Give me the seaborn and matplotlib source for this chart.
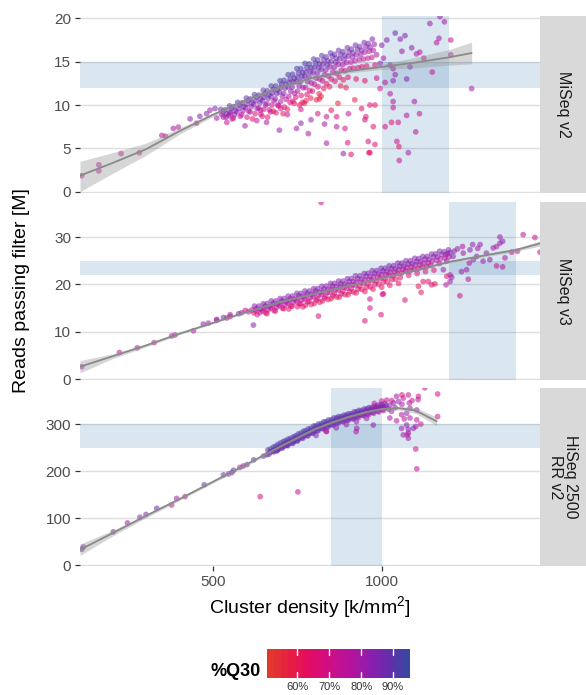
import numpy as np
import pandas as pd
import matplotlib
matplotlib.use("Agg")
import matplotlib.pyplot as plt
import seaborn as sns
from matplotlib.colors import LinearSegmentedColormap, ListedColormap

# ---------------- data ----------------
panel_names = ["MiSeq v2", "MiSeq v3", "HiSeq 2500\nRR v2"]

# MiSeq v2 : cluster density [k/mm2], reads PF [M], %Q30
v2_x = [
    109, 160, 160, 226, 280, 347, 358, 381, 396, 431,
    450, 460, 490, 510, 540, 550, 594, 629, 658, 696,
    747, 480, 505,
    782, 836, 886, 909, 899, 960, 965, 891, 866, 950,
    975, 836, 962, 980, 953, 901, 866, 995, 985, 965,
    980, 720, 760, 790, 810, 850, 870, 920, 940, 700,
    740, 775, 815, 640, 670, 830, 760,
    1143, 1173, 1186, 1170, 1163, 1205, 1113, 1103, 1089, 1125,
    1084, 1150, 1205, 1074, 1040, 1034, 1267, 1025, 1034, 1034,
    1097, 1112, 1074, 1049, 1029, 1010, 1101, 1045, 1051, 1079,
    1052, 995, 985, 1005, 1025, 1034, 1040, 1069, 1055, 1015,
    1000, 1060, 1010,
    522, 528, 525, 530,
    548, 553, 550, 545, 556,
    572, 578, 575, 570, 580,
    598, 603, 600, 596, 605, 600,
    622, 628, 625, 620, 630, 624,
    648, 653, 650, 646, 655, 650, 645,
    672, 678, 675, 671, 680, 674, 678,
    698, 703, 700, 696, 705, 700, 694, 707,
    722, 728, 725, 721, 730, 724, 728, 720,
    748, 753, 750, 746, 755, 750, 745, 756,
    772, 778, 775, 771, 780, 774, 778, 770,
    798, 803, 800, 796, 805, 800, 794, 806,
    822, 828, 825, 821, 830, 824, 828, 820,
    848, 853, 850, 846, 855, 850, 845,
    872, 878, 875, 871, 880, 874, 878,
    898, 903, 900, 896, 905, 900, 894,
    922, 928, 925, 921, 930, 924,
    948, 953, 950, 946, 955, 950,
    972, 978, 975, 971, 980,
]
v2_y = [
    1.85, 3.1, 2.4, 4.4, 4.5, 6.5, 6.4, 7.3, 7.45, 8.4,
    7.9, 8.7, 9.4, 8.5, 8.0, 9.0, 7.6, 8.2, 8.0, 7.1,
    7.3, 9.0, 9.6,
    6.7, 5.6, 4.4, 4.3, 5.65, 5.8, 4.5, 7.3, 7.5, 8.3,
    7.5, 8.65, 4.5, 5.45, 8.65, 9.0, 8.65, 11.9, 13.1, 10.0,
    10.0, 8.9, 9.5, 8.3, 9.0, 9.4, 10.2, 10.6, 9.6, 9.6,
    10.2, 10.5, 10.7, 9.4, 9.2, 7.8, 7.9,
    19.4, 20.2, 19.6, 17.7, 17.2, 17.5, 16.1, 15.9, 16.6, 15.4,
    14.4, 13.8, 15.8, 13.0, 13.5, 12.8, 11.9, 11.3, 10.4, 9.7,
    10.4, 9.0, 8.8, 8.0, 8.0, 7.5, 6.9, 5.8, 5.2, 4.5,
    3.6, 14.8, 15.8, 15.4, 14.6, 14.2, 18.3, 18.0, 17.6, 17.5,
    16.9, 16.2, 12.6,
    9.5, 9.2, 8.9, 8.6,
    9.9, 9.6, 9.2, 8.8, 8.4,
    10.3, 10.0, 9.6, 9.2, 8.7,
    10.8, 10.5, 10.1, 9.7, 9.3, 8.6,
    11.2, 10.9, 10.5, 10.1, 9.6, 9.0,
    11.7, 11.3, 10.9, 10.5, 10.0, 9.5, 8.7,
    12.2, 11.8, 11.4, 11.0, 10.5, 10.0, 9.3,
    12.8, 12.4, 12.0, 11.5, 11.0, 10.4, 9.9, 9.0,
    13.5, 13.0, 12.6, 12.1, 11.6, 11.0, 10.3, 9.5,
    14.2, 13.7, 13.2, 12.7, 12.2, 11.6, 10.9, 10.0,
    14.8, 14.3, 13.8, 13.3, 12.7, 12.0, 11.2, 10.2,
    15.3, 14.8, 14.3, 13.7, 13.1, 12.4, 11.6, 10.6,
    15.7, 15.2, 14.7, 14.1, 13.5, 12.8, 11.9, 11.0,
    16.0, 15.6, 15.0, 14.4, 13.8, 13.0, 12.1,
    16.3, 15.8, 15.3, 14.7, 14.0, 13.2, 12.2,
    16.6, 16.1, 15.6, 14.9, 14.2, 13.2, 12.0,
    16.9, 16.4, 15.8, 15.1, 14.3, 13.0,
    17.2, 16.7, 16.1, 15.3, 14.5, 12.8,
    17.6, 17.0, 16.3, 15.5, 14.6,
]
v2_q = [
    72, 78, 75, 72, 70, 76, 74, 80, 78, 82,
    76, 84, 80, 78, 76, 82, 80, 74, 78, 82,
    80, 86, 88,
    78, 80, 84, 68, 66, 68, 62, 70, 76, 66,
    64, 72, 64, 66, 68, 72, 66, 70, 74, 66,
    62, 74, 70, 82, 66, 62, 58, 60, 64, 70,
    62, 60, 58, 76, 72, 80, 84,
    80, 82, 80, 80, 76, 72, 74, 78, 80, 76,
    82, 72, 78, 84, 80, 82, 80, 76, 78, 72,
    80, 74, 78, 70, 66, 68, 76, 70, 64, 80,
    74, 84, 82, 80, 82, 78, 88, 86, 84, 86,
    84, 80, 74,
    88, 86, 82, 76,
    90, 88, 84, 78, 70,
    90, 88, 85, 80, 72,
    90, 88, 86, 82, 74, 68,
    91, 89, 86, 83, 76, 66,
    91, 89, 87, 84, 78, 70, 64,
    91, 90, 88, 85, 80, 72, 62,
    92, 90, 88, 86, 82, 76, 68, 60,
    92, 90, 88, 86, 82, 76, 66, 58,
    92, 90, 89, 86, 82, 76, 68, 62,
    91, 90, 88, 86, 82, 74, 66, 60,
    91, 90, 88, 85, 80, 72, 64, 58,
    90, 88, 87, 84, 78, 70, 62, 56,
    90, 88, 86, 82, 76, 68, 60,
    89, 88, 85, 80, 74, 66, 58,
    88, 86, 84, 78, 72, 64, 60,
    88, 86, 82, 76, 70, 62,
    86, 84, 80, 74, 68, 62,
    86, 82, 78, 72, 66,
]
# MiSeq v2, more runs in the dense part of the cloud
v2_dense_x = [
    535, 540, 538,
    560, 565, 563, 559,
    585, 590, 588, 584,
    610, 615, 613, 609, 616,
    635, 640, 638, 634, 641,
    660, 665, 663, 659, 666, 661,
    685, 690, 688, 684, 691, 686,
    710, 715, 713, 709, 716, 711,
    735, 740, 738, 734, 741, 736,
    760, 765, 763, 759, 766, 761, 764,
    785, 790, 788, 784, 791, 786, 789,
    810, 815, 813, 809, 816, 811, 814,
    835, 840, 838, 834, 841, 836,
    860, 865, 863, 859, 866, 861,
    885, 890, 888, 884, 891, 886,
    910, 915, 913, 909, 916,
    935, 940, 938, 934, 941,
    960, 965, 963, 959,
]
v2_dense_y = [
    9.45, 9.0, 8.6,
    9.8, 9.35, 8.9, 8.5,
    10.25, 9.8, 9.35, 8.9,
    10.7, 10.25, 9.8, 9.2, 8.4,
    11.15, 10.7, 10.25, 9.65, 8.95,
    11.65, 11.2, 10.75, 10.15, 9.45, 8.6,
    12.2, 11.75, 11.3, 10.7, 10.0, 9.1,
    12.85, 12.4, 11.95, 11.35, 10.65, 9.75,
    13.55, 13.1, 12.65, 12.05, 11.35, 10.45,
    14.2, 13.75, 13.3, 12.7, 12.0, 11.1, 10.3,
    14.75, 14.3, 13.85, 13.25, 12.55, 11.65, 10.8,
    15.2, 14.75, 14.3, 13.7, 13.0, 12.1, 11.3,
    15.55, 15.1, 14.65, 14.05, 13.35, 12.45,
    15.85, 15.4, 14.95, 14.35, 13.65, 12.75,
    16.15, 15.7, 15.25, 14.65, 13.95, 12.9,
    16.45, 16.0, 15.55, 14.95, 14.25,
    16.75, 16.3, 15.85, 15.25, 14.4,
    17.1, 16.65, 16.2, 15.4,
]
v2_dense_q = [
    90, 87, 80,
    90, 88, 82, 74,
    91, 88, 84, 76,
    91, 89, 85, 78, 66,
    91, 89, 86, 80, 70,
    92, 90, 87, 82, 72, 62,
    92, 90, 88, 83, 74, 64,
    92, 90, 88, 84, 76, 66,
    92, 91, 88, 85, 78, 68,
    92, 91, 89, 85, 78, 68, 60,
    92, 90, 88, 84, 76, 66, 58,
    91, 90, 88, 84, 76, 66, 60,
    91, 89, 87, 82, 74, 64,
    90, 89, 86, 80, 72, 62,
    90, 88, 85, 78, 70, 60,
    89, 87, 84, 76, 68,
    88, 86, 82, 74, 66,
    87, 84, 80, 72,
]

# MiSeq v3
v3_x = [
    109, 221, 274, 324, 376, 386, 441, 470, 485, 510,
    510, 540, 550, 550, 584, 604, 619, 614, 530, 575,
    595,
    812, 950, 965, 998, 1005, 1069, 1109, 1117, 1138, 1158,
    1193, 965, 1002, 1148, 1123, 1232, 820,
    1257, 1203, 1191, 1208, 1341, 1359, 1366, 1321, 1301, 1282,
    1311, 1331, 1351, 1351, 1359, 1341, 1386, 1403, 1420, 1455,
    1470, 1292, 1262, 1242, 1272, 1252, 1237, 1212, 1193, 1183,
    1203, 1225, 1240, 1270, 1215, 1195, 1260, 1285,
    622, 628, 625, 620, 630,
    648, 653, 650, 646, 655,
    672, 678, 675, 671, 680,
    698, 703, 700, 696, 705,
    722, 728, 725, 721, 730, 724,
    748, 753, 750, 746, 755, 750,
    772, 778, 775, 771, 780, 774,
    798, 803, 800, 796, 805, 800,
    822, 828, 825, 821, 830, 824,
    848, 853, 850, 846, 855, 850,
    872, 878, 875, 871, 880, 874,
    898, 903, 900, 896, 905, 900,
    922, 928, 925, 921, 930, 924,
    948, 953, 950, 946, 955, 950,
    972, 978, 975, 971, 980, 974,
    998, 1003, 1000, 996, 1005, 1000,
    1022, 1028, 1025, 1021, 1030, 1024,
    1048, 1053, 1050, 1046, 1055, 1050,
    1072, 1078, 1075, 1071, 1080,
    1098, 1103, 1100, 1096, 1105,
    1122, 1128, 1125, 1121, 1130,
    1148, 1153, 1150, 1146, 1155,
    1172, 1178, 1175, 1171,
    1198, 1203, 1200,
]
v3_y = [
    2.6, 5.6, 6.6, 7.7, 9.1, 9.3, 10.2, 11.6, 11.8, 12.4,
    12.6, 12.9, 13.6, 13.2, 14.0, 14.2, 11.4, 14.6, 13.0, 13.8,
    14.5,
    13.3, 12.3, 15.0, 13.6, 18.0, 16.7, 19.6, 18.3, 20.6, 20.1,
    21.7, 16.9, 17.9, 19.9, 20.6, 17.6, 37.3,
    21.1, 20.6, 19.9, 21.5, 23.9, 23.7, 25.6, 25.2, 24.9, 25.9,
    26.6, 27.7, 28.7, 30.0, 29.1, 28.0, 26.8, 27.0, 30.5, 29.9,
    26.8, 28.4, 27.3, 26.6, 25.2, 23.1, 22.7, 25.9, 24.9, 23.1,
    22.0, 27.5, 28.0, 28.4, 27.0, 26.5, 24.5, 27.6,
    15.4, 14.9, 14.5, 14.0, 13.6,
    15.9, 15.4, 14.9, 14.4, 14.0,
    16.5, 16.0, 15.5, 15.0, 14.5,
    17.0, 16.5, 16.0, 15.5, 15.0,
    17.5, 17.0, 16.5, 16.0, 15.4, 14.8,
    18.1, 17.6, 17.0, 16.5, 15.9, 15.3,
    18.6, 18.1, 17.5, 16.9, 16.3, 15.6,
    19.1, 18.6, 18.0, 17.4, 16.7, 16.0,
    19.6, 19.0, 18.4, 17.8, 17.1, 16.5,
    20.2, 19.6, 19.0, 18.3, 17.6, 17.0,
    20.7, 20.1, 19.5, 18.8, 18.0, 17.3,
    21.2, 20.6, 19.9, 19.2, 18.5, 17.8,
    21.8, 21.2, 20.5, 19.8, 19.0, 18.2,
    22.3, 21.7, 21.0, 20.2, 19.4, 18.5,
    22.9, 22.3, 21.6, 20.8, 20.0, 19.0,
    23.4, 22.8, 22.1, 21.3, 20.5, 19.4,
    23.9, 23.3, 22.6, 21.8, 21.0, 19.8,
    24.5, 23.8, 23.1, 22.3, 21.4, 20.2,
    25.0, 24.3, 23.6, 22.8, 21.9,
    25.5, 24.8, 24.1, 23.2, 22.3,
    25.9, 25.3, 24.5, 23.6, 22.7,
    26.4, 25.8, 24.9, 24.0, 23.0,
    27.0, 26.3, 25.4, 24.4,
    27.3, 26.7, 25.8,
]
v3_q = [
    76, 74, 78, 74, 80, 78, 76, 84, 80, 78,
    82, 72, 80, 76, 82, 78, 84, 74, 88, 86,
    70,
    70, 68, 70, 66, 64, 68, 62, 60, 64, 62,
    66, 72, 70, 66, 64, 68, 72,
    76, 80, 78, 80, 72, 76, 80, 84, 82, 84,
    82, 80, 82, 80, 84, 78, 70, 72, 74, 72,
    70, 82, 84, 80, 82, 80, 82, 84, 82, 80,
    78, 80, 78, 82, 84, 82, 78, 80,
    82, 84, 76, 70, 66,
    84, 86, 78, 72, 64,
    84, 86, 78, 72, 66,
    82, 86, 78, 72, 64,
    82, 86, 80, 74, 68, 62,
    84, 86, 80, 74, 68, 62,
    84, 86, 80, 74, 68, 64,
    82, 86, 80, 74, 68, 62,
    84, 86, 80, 74, 68, 64,
    82, 86, 80, 72, 66, 62,
    84, 86, 80, 74, 68, 62,
    84, 86, 80, 72, 66, 60,
    82, 86, 80, 74, 68, 62,
    84, 86, 80, 72, 66, 62,
    84, 86, 80, 74, 68, 62,
    84, 86, 80, 72, 66, 62,
    84, 86, 80, 74, 68, 62,
    84, 86, 80, 72, 66, 62,
    84, 86, 80, 74, 68,
    84, 86, 80, 72, 66,
    86, 84, 80, 72, 66,
    86, 84, 80, 74, 68,
    86, 84, 80, 74,
    86, 84, 80,
]
v3_dense_x = [
    635, 640, 638,
    660, 665, 663, 659,
    685, 690, 688, 684,
    710, 715, 713, 709,
    735, 740, 738, 734,
    760, 765, 763, 759, 766,
    785, 790, 788, 784, 791,
    810, 815, 813, 809, 816,
    835, 840, 838, 834, 841,
    860, 865, 863, 859, 866,
    885, 890, 888, 884, 891,
    910, 915, 913, 909, 916,
    935, 940, 938, 934, 941,
    960, 965, 963, 959, 966,
    985, 990, 988, 984, 991,
    1010, 1015, 1013, 1009, 1016,
    1035, 1040, 1038, 1034, 1041,
    1060, 1065, 1063, 1059,
    1085, 1090, 1088, 1084,
    1110, 1115, 1113, 1109,
    1135, 1140, 1138, 1134,
    1160, 1165, 1163,
    1185, 1190, 1188,
]
v3_dense_y = [
    15.4, 14.75, 14.05,
    15.95, 15.3, 14.6, 13.8,
    16.5, 15.85, 15.15, 14.35,
    17.0, 16.35, 15.65, 14.85,
    17.55, 16.9, 16.2, 15.4,
    18.1, 17.45, 16.75, 15.95, 15.25,
    18.6, 17.95, 17.25, 16.45, 15.75,
    19.1, 18.45, 17.75, 16.95, 16.25,
    19.65, 19.0, 18.3, 17.5, 16.8,
    20.2, 19.55, 18.85, 18.05, 17.35,
    20.7, 20.05, 19.35, 18.55, 17.85,
    21.25, 20.6, 19.9, 19.1, 18.4,
    21.8, 21.15, 20.45, 19.65, 18.95,
    22.35, 21.7, 21.0, 20.2, 19.5,
    22.9, 22.25, 21.55, 20.75, 20.05,
    23.4, 22.75, 22.05, 21.25, 20.55,
    23.95, 23.3, 22.6, 21.8, 21.1,
    24.5, 23.85, 23.15, 22.35,
    25.0, 24.35, 23.65, 22.85,
    25.45, 24.8, 24.1, 23.3,
    25.9, 25.25, 24.55, 23.75,
    26.45, 25.8, 25.1,
    26.9, 26.25, 25.55,
]
v3_dense_q = [
    86, 82, 74,
    86, 82, 74, 66,
    86, 82, 76, 68,
    86, 82, 76, 68,
    86, 82, 76, 68,
    86, 82, 76, 68, 62,
    86, 82, 76, 68, 62,
    86, 82, 76, 68, 62,
    86, 82, 76, 68, 62,
    86, 82, 76, 68, 62,
    86, 82, 76, 68, 62,
    86, 82, 76, 68, 62,
    86, 82, 76, 68, 62,
    86, 82, 76, 68, 62,
    86, 82, 76, 68, 62,
    86, 82, 76, 68, 62,
    86, 82, 76, 68, 62,
    86, 82, 76, 68,
    86, 82, 76, 68,
    86, 82, 76, 68,
    86, 82, 76, 68,
    86, 82, 76,
    86, 82, 76,
]

# HiSeq 2500 RR v2
hs_x = [
    109, 114, 203, 282, 332, 376, 391, 416, 473, 530,
    545, 555, 579, 589, 639, 649, 659, 678, 693, 718,
    751, 737, 752, 245, 300, 600, 620, 560,
    662, 668, 665,
    678, 683, 680,
    692, 698, 695, 690,
    708, 713, 710, 705,
    722, 728, 725, 721,
    738, 743, 740, 736,
    752, 758, 755, 750,
    768, 773, 770, 766,
    782, 788, 785, 781,
    798, 803, 800, 796, 805,
    812, 818, 815, 811,
    828, 833, 830, 826, 835,
    842, 848, 845, 841,
    858, 863, 860, 856, 865,
    872, 878, 875, 871,
    888, 893, 890, 886, 895,
    902, 908, 905, 901,
    918, 923, 920, 916, 925,
    932, 938, 935, 931,
    948, 953, 950, 946, 955,
    962, 968, 965, 961,
    978, 983, 980, 976,
    992, 998, 995, 991,
    1008, 1013, 1010, 1005,
    836, 926, 924, 975, 1024, 1044, 1029, 1059, 1067, 1084,
    1074, 1059, 1064, 1076, 1079, 1094, 1084, 1104, 1116, 1101,
    1108, 1128, 1166, 1166, 1101, 1044, 1064, 1082, 1104, 1104,
    1079, 1109, 1074, 1079, 1079, 1024, 1035, 1050, 1040, 1020,
    1060, 1030, 1090, 1060, 978, 1000, 1015,
]
hs_y = [
    34, 39, 71, 102, 121, 128, 142, 146, 171, 192,
    194, 197, 208, 211, 146, 232, 235, 244, 249, 256,
    156, 263, 270, 90, 108, 214, 224, 202,
    245, 240, 236,
    251, 246, 241,
    257, 252, 247, 244,
    263, 258, 253, 249,
    268, 264, 259, 254,
    273, 269, 264, 259,
    279, 274, 269, 264,
    285, 280, 275, 270,
    290, 286, 280, 275,
    296, 291, 286, 281, 276,
    300, 296, 291, 286,
    305, 300, 295, 290, 285,
    309, 304, 299, 294,
    313, 308, 303, 298, 292,
    316, 312, 307, 302,
    319, 315, 310, 305, 299,
    322, 318, 313, 308,
    326, 321, 316, 311, 305,
    329, 325, 320, 314,
    332, 328, 323, 318, 312,
    335, 331, 326, 320,
    338, 334, 329, 323,
    341, 337, 332, 326,
    344, 340, 335, 329,
    284, 291, 284, 298, 313, 307, 327, 320, 311, 334,
    298, 291, 277, 277, 270, 291, 313, 309, 300, 295,
    352, 377, 364, 316, 247, 359, 355, 345, 330, 205,
    362, 359, 323, 289, 281, 340, 345, 348, 335, 332,
    342, 350, 350, 362, 344, 349, 351,
]
hs_q = [
    88, 84, 88, 86, 90, 70, 80, 74, 90, 88,
    86, 82, 78, 80, 68, 90, 88, 86, 88, 90,
    70, 92, 92, 80, 86, 84, 90, 92,
    90, 92, 88,
    92, 90, 88,
    92, 90, 88, 86,
    92, 91, 90, 86,
    92, 91, 90, 88,
    92, 91, 90, 88,
    92, 91, 90, 88,
    92, 91, 90, 88,
    92, 91, 90, 88,
    92, 91, 90, 88, 86,
    92, 91, 90, 88,
    92, 91, 90, 88, 84,
    92, 91, 90, 88,
    91, 90, 89, 86, 84,
    91, 90, 89, 86,
    91, 90, 88, 86, 82,
    90, 89, 88, 86,
    90, 89, 88, 84, 82,
    90, 89, 88, 84,
    90, 88, 86, 84, 80,
    88, 86, 84, 82,
    88, 86, 84, 80,
    86, 84, 82, 80,
    86, 84, 82, 80,
    74, 80, 76, 82, 80, 76, 80, 78, 76, 80,
    84, 82, 80, 78, 80, 84, 78, 76, 72, 80,
    74, 72, 70, 72, 74, 80, 74, 78, 82, 74,
    72, 70, 84, 82, 76, 86, 84, 82, 84, 84,
    80, 70, 72, 68, 70, 72, 76,
]
hs_dense_x = [
    670, 675,
    685, 690, 688,
    700, 705, 703,
    715, 720, 718,
    730, 735, 733,
    745, 750, 748,
    760, 765, 763,
    775, 780, 778,
    790, 795, 793,
    805, 810, 808,
    820, 825, 823,
    835, 840, 838,
    850, 855, 853,
    865, 870, 868,
    880, 885, 883,
    895, 900, 898,
    910, 915, 913,
    925, 930, 928,
    940, 945, 943,
    955, 960, 958,
    970, 975, 973,
    985, 990, 988,
    1000, 1005, 1003,
]
hs_dense_y = [
    247, 242,
    253, 248, 243,
    260, 255, 250,
    265, 260, 255,
    270, 265, 260,
    275, 270, 265,
    281, 276, 271,
    286, 281, 276,
    291, 286, 281,
    296, 291, 286,
    301, 296, 291,
    305, 300, 295,
    309, 304, 299,
    313, 308, 303,
    316, 311, 306,
    319, 314, 309,
    322, 317, 312,
    326, 321, 316,
    329, 324, 319,
    332, 327, 322,
    335, 330, 325,
    338, 333, 328,
    341, 336, 331,
]
hs_dense_q = [
    92, 90,
    92, 90, 88,
    92, 90, 88,
    92, 90, 88,
    92, 90, 88,
    92, 90, 88,
    92, 90, 88,
    92, 90, 88,
    92, 90, 88,
    92, 90, 88,
    92, 90, 88,
    92, 90, 88,
    91, 90, 88,
    91, 90, 88,
    91, 89, 86,
    90, 89, 86,
    90, 88, 86,
    90, 88, 84,
    89, 87, 84,
    88, 86, 82,
    88, 86, 82,
    86, 84, 80,
    86, 84, 80,
]

# smoothed fits
v2_fit_x = [104, 200, 300, 400, 500, 600, 700, 800, 900, 1000, 1100, 1200, 1267]
v2_fit_y = [1.85, 3.3, 4.9, 7.0, 8.9, 10.6, 12.1, 13.2, 13.9, 14.4, 14.9, 15.5, 16.0]
v2_fit_lo = [0.0, 2.1, 4.2, 6.65, 8.7, 10.4, 11.9, 13.0, 13.7, 14.1, 14.3, 14.6, 14.75]
v2_fit_hi = [3.5, 4.5, 5.6, 7.35, 9.1, 10.8, 12.3, 13.4, 14.1, 14.7, 15.5, 16.4, 17.25]

v3_fit_x = [104, 200, 300, 400, 500, 600, 700, 800, 900, 1000, 1100, 1200, 1300, 1400, 1470]
v3_fit_y = [2.6, 4.8, 7.1, 9.6, 11.9, 14.2, 16.3, 18.0, 19.7, 21.3, 23.0, 24.75, 26.05, 27.3, 28.65]
v3_fit_lo = [1.3, 4.3, 6.8, 9.4, 11.7, 14.05, 16.15, 17.85, 19.55, 21.15, 22.85, 24.55, 25.75, 26.95, 28.1]
v3_fit_hi = [3.9, 5.3, 7.4, 9.8, 12.1, 14.35, 16.45, 18.15, 19.85, 21.45, 23.15, 24.95, 26.35, 27.65, 29.2]

hs_fit_x = [104, 200, 300, 400, 500, 600, 700, 800, 850, 900, 950, 1000, 1050, 1100, 1163]
hs_fit_y = [33, 68, 105, 141, 178, 215, 253, 289, 303, 315, 325, 332, 334, 329, 306]
hs_fit_lo = [21, 62, 101, 138, 175, 212, 250, 286, 300, 312, 322, 329, 330, 323, 297]
hs_fit_hi = [45, 74, 109, 144, 181, 218, 256, 292, 306, 318, 328, 335, 338, 335, 315]

# target ranges (shaded)
yield_ranges = [(12, 15), (22, 25), (250, 300)]
density_ranges = [(1000, 1200), (1200, 1400), (850, 1000)]

y_ticks = [[0, 5, 10, 15, 20], [0, 10, 20, 30], [0, 100, 200, 300]]
y_limits = [(-0.15, 20.27), (-0.2, 37.4), (-1.5, 376.7)]
x_limits = (104, 1470)
x_ticks = [500, 1000]

q30_stops = [50, 57, 63, 70, 77, 84, 90, 95]
q30_colors = ["#e2392b", "#e61f45", "#e30c62", "#d10e88", "#b4149f", "#8a1fae", "#6230ac", "#3a47a0"]
q30_ticks = [60, 70, 80, 90]
q30_labels = ["60%", "70%", "80%", "90%"]
q30_range = (50.5, 95.0)

# ---------------- style ----------------
sns.set_style("white")
plt.rcParams["font.family"] = ["Liberation Sans", "DejaVu Sans"]
plt.rcParams["mathtext.fontset"] = "custom"
plt.rcParams["mathtext.rm"] = "Liberation Sans"
plt.rcParams["mathtext.it"] = "Liberation Sans"

pos = [(s - q30_stops[0]) / (q30_stops[-1] - q30_stops[0]) for s in q30_stops]
cmap = LinearSegmentedColormap.from_list("q30", list(zip(pos, q30_colors)))

W, H = 586, 695
fig = plt.figure(figsize=(W / 100, H / 100), dpi=100)


def px_axes(l, t, r, b):
    return fig.add_axes([l / W, 1 - b / H, (r - l) / W, (b - t) / H])


panel_px = [(16, 193), (202, 380), (388, 566)]
datasets = [
    (v2_x + v2_dense_x, v2_y + v2_dense_y, v2_q + v2_dense_q,
     v2_fit_x, v2_fit_y, v2_fit_lo, v2_fit_hi),
    (v3_x + v3_dense_x, v3_y + v3_dense_y, v3_q + v3_dense_q,
     v3_fit_x, v3_fit_y, v3_fit_lo, v3_fit_hi),
    (hs_x + hs_dense_x, hs_y + hs_dense_y, hs_q + hs_dense_q,
     hs_fit_x, hs_fit_y, hs_fit_lo, hs_fit_hi),
]

for i, (t, b) in enumerate(panel_px):
    ax = px_axes(80, t, 540, b)
    xs, ys, qs, fx, fy, flo, fhi = datasets[i]
    df = pd.DataFrame({"density": xs, "reads": ys, "q30": qs})
    ax.axhspan(*yield_ranges[i], color="steelblue", alpha=0.2, lw=0, zorder=1)
    ax.axvspan(*density_ranges[i], color="steelblue", alpha=0.2, lw=0, zorder=1)
    sns.scatterplot(data=df, x="density", y="reads", hue="q30", palette=cmap,
                    hue_norm=(50, 95), s=17, alpha=0.55, linewidth=0,
                    legend=False, ax=ax, zorder=3)
    ax.fill_between(fx, flo, fhi, color="#999999", alpha=0.4, lw=0, zorder=4)
    sns.lineplot(x=fx, y=fy, color="#8a8a8a", lw=1.3, ax=ax, zorder=5)
    ax.set_xlim(*x_limits)
    ax.set_ylim(*y_limits[i])
    ax.set_yticks(y_ticks[i])
    ax.set_xlabel("")
    ax.set_ylabel("")
    ax.yaxis.grid(True, color="#dedede", lw=1.0, zorder=0)
    ax.xaxis.grid(False)
    ax.set_axisbelow(True)
    for sp in ax.spines.values():
        sp.set_visible(False)
    ax.tick_params(axis="y", left=True, length=3.8, width=0.9, color="#333333",
                   labelcolor="#4d4d4d", labelsize=11, pad=2.5)
    ax.set_xticks(x_ticks)
    if i == 2:
        ax.tick_params(axis="x", bottom=True, length=3.8, width=0.9, color="#333333",
                       labelcolor="#4d4d4d", labelsize=11, pad=2.5)
    else:
        ax.tick_params(axis="x", bottom=False, labelbottom=False)
    # facet strip
    sax = px_axes(540, t, 586, b)
    sax.set_facecolor("#d9d9d9")
    sax.set_xticks([])
    sax.set_yticks([])
    for sp in sax.spines.values():
        sp.set_visible(False)
    sax.text(0.5, 0.5, panel_names[i], rotation=270, ha="center", va="center",
             fontsize=11.5, color="#1a1a1a", transform=sax.transAxes,
             multialignment="center", linespacing=0.95)

fig.text(22 / W, 1 - 291 / H, "Reads passing filter [M]", rotation=90,
         ha="center", va="center", fontsize=14, color="black")
fig.text(310 / W, 1 - 607 / H, "Cluster density [k/mm$^2$]",
         ha="center", va="center", fontsize=14, color="black")

# colour bar legend (binned like a ggplot colourbar)
cax = px_axes(267, 649, 409, 678)
nb = 20
binned = ListedColormap(cmap(np.linspace((q30_range[0] - 50) / 45,
                                         (q30_range[1] - 50) / 45, nb)))
cax.imshow(np.arange(nb).reshape(1, -1), cmap=binned, aspect="auto",
           extent=(q30_range[0], q30_range[1], 0, 1))
cax.set_xlim(*q30_range)
cax.set_ylim(0, 1)
for tk in q30_ticks:
    cax.plot([tk, tk], [0, 0.2], color="white", lw=1)
    cax.plot([tk, tk], [0.8, 1], color="white", lw=1)
cax.set_yticks([])
cax.set_xticks(q30_ticks)
cax.set_xticklabels(q30_labels)
cax.tick_params(axis="x", bottom=False, length=0, labelsize=8, labelcolor="#333333", pad=3)
for sp in cax.spines.values():
    sp.set_visible(False)
fig.text(261 / W, 1 - 676 / H, "%Q30", ha="right", va="baseline",
         fontsize=13, fontweight="bold", color="black")

fig.savefig("out.png", dpi=100)
